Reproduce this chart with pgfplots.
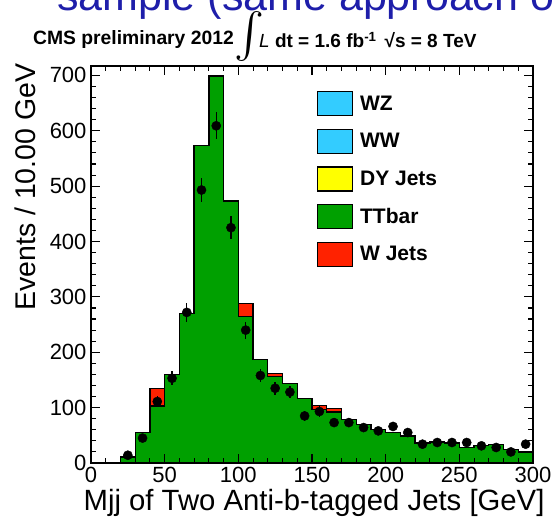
\documentclass[border=0pt]{standalone}
\usepackage{fontspec}
\setmainfont{Liberation Sans}
\usepackage{graphicx}
\usepackage{pgfplots}
\pgfplotsset{compat=1.18}
\definecolor{wred}{RGB}{255,34,0}
\definecolor{ttgreen}{RGB}{0,160,0}
\definecolor{dycol}{RGB}{255,255,0}
\definecolor{wwcol}{RGB}{51,204,255}
\definecolor{slideblue}{RGB}{30,30,170}
\begin{document}
\begin{tikzpicture}
\path[use as bounding box] (-91pt,-58pt) rectangle (461pt,463pt);
\begin{axis}[
  at={(0pt,0pt)}, anchor=south west,
  scale only axis, width=442pt, height=397pt,
  xmin=0, xmax=300, ymin=0, ymax=717,
  axis on top,
  axis line style={line width=1.3pt},
  every tick/.style={black, line width=1.1pt},
  major tick length=9pt, minor tick length=5pt,
  tick pos=both, tick align=inside,
  xtick={0,50,...,300}, ytick={0,100,...,700},
  minor x tick num=4, minor y tick num=4,
  /pgf/number format/assume math mode=true,
  ticklabel style={font=\fontsize{22}{22}\selectfont},
  xticklabel style={yshift=-1pt},
  yticklabel style={xshift=-1pt},
  xlabel={Mjj of Two Anti-b-tagged Jets [GeV]},
  ylabel={Events / 10.00 GeV},
  xlabel style={font=\fontsize{29.3}{29.3}\selectfont, at={(axis description cs:1.034,-0.1008)}, anchor=east},
  ylabel style={font=\fontsize{28.5}{28.5}\selectfont, at={(axis description cs:-0.149,1.015)}, anchor=east},
  legend style={draw=none, fill=none, at={(axis description cs:0.511,0.937)}, anchor=north west,
    font=\bfseries\fontsize{21}{21}\selectfont, row sep=12.5pt, column sep=5pt, inner sep=0pt},
  legend cell align=left,
  legend image code/.code={\draw[#1, line width=1.1pt] (0pt,-12pt) rectangle (35pt,12pt);},
]
% Total (W Jets + TTbar)
\addplot[const plot, fill=wred, draw=black, line width=1.3pt, forget plot] coordinates {
(20,11) (30,55) (40,135) (50,160) (60,270) (70,574) (80,699) (90,473) (100,288) (110,187)
(120,162) (130,143) (140,117) (150,104) (160,99) (170,79) (180,70) (190,61) (200,55) (210,49)
(220,36) (230,38) (240,36) (250,28) (260,31) (270,33) (280,25) (290,20) (300,20)} \closedcycle;
% TTbar
\addplot[const plot, fill=ttgreen, draw=black, line width=1.3pt, forget plot] coordinates {
(20,11) (30,55) (40,103) (50,160) (60,270) (70,574) (80,699) (90,473) (100,264) (110,187)
(120,156) (130,143) (140,117) (150,96) (160,92) (170,79) (180,70) (190,61) (200,55) (210,49)
(220,36) (230,38) (240,36) (250,28) (260,31) (270,33) (280,25) (290,20) (300,20)} \closedcycle;
% Data
\addplot[only marks, mark=*, mark size=4.6pt, black, forget plot,
  error bars/.cd, y dir=both, y explicit, error bar style={line width=1.4pt}, error mark=none]
coordinates {
(25,14) +- (0,3.7) (35,45) +- (0,6.7) (45,111) +- (0,10.5) (55,153) +- (0,12.4)
(65,272) +- (0,16.5) (75,493) +- (0,22.2) (85,609) +- (0,24.7) (95,425) +- (0,20.6)
(105,240) +- (0,15.5) (115,158) +- (0,12.6) (125,135) +- (0,11.6) (135,128) +- (0,11.3)
(145,85) +- (0,9.2) (155,93) +- (0,9.6) (165,73) +- (0,8.5) (175,73) +- (0,8.5)
(185,64) +- (0,8.0) (195,58) +- (0,7.6) (205,66) +- (0,8.1) (215,55) +- (0,7.4)
(225,34) +- (0,5.8) (235,37) +- (0,6.1) (245,37) +- (0,6.1) (255,37) +- (0,6.1)
(265,31) +- (0,5.6) (275,28) +- (0,5.3) (285,20) +- (0,4.5) (295,34) +- (0,5.8)};
\addlegendimage{fill=wwcol, draw=black}
\addlegendentry{WZ}
\addlegendimage{fill=wwcol, draw=black}
\addlegendentry{WW}
\addlegendimage{fill=dycol, draw=black}
\addlegendentry{DY Jets}
\addlegendimage{fill=ttgreen, draw=black}
\addlegendentry{TTbar}
\addlegendimage{fill=wred, draw=black}
\addlegendentry{W Jets}
\end{axis}
\node[anchor=base west, font=\fontsize{43}{43}\selectfont, text=slideblue, inner sep=0pt] at (-34pt,452pt) {sample (same approach of};
\node[anchor=west, font=\bfseries\fontsize{19.3}{19.3}\selectfont, inner sep=0pt] at (-58pt,423pt) {CMS preliminary 2012};
\node[inner sep=0pt] at (159pt,426pt) {\resizebox*{!}{50pt}{$\int$}};
\node[anchor=west, font=\bfseries\fontsize{19}{19}\selectfont, inner sep=0pt] at (168pt,423pt) {{\mdseries\itshape L} dt = 1.6 fb\textsuperscript{-1}\hspace{8pt}√s = 8 TeV};
\end{tikzpicture}
\end{document}
